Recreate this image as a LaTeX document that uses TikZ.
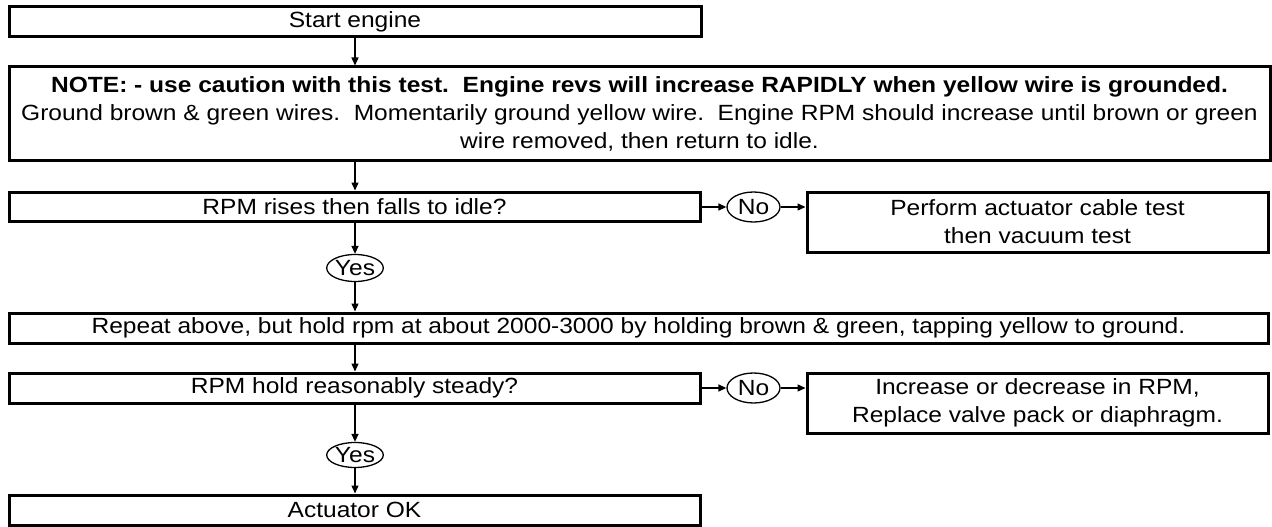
\documentclass[tikz,border=0pt]{standalone}
\usepackage{fontspec}
\setmainfont[FakeStretch=1.115]{Liberation Sans}
\usetikzlibrary{shapes.geometric,arrows.meta}
\begin{document}
\begin{tikzpicture}[x=1pt,y=1pt,
  font=\fontsize{22}{28}\selectfont,
  box/.style={draw, line width=3pt, inner sep=0pt, align=center},
  oval/.style={draw, ellipse, line width=1.3pt, inner sep=0pt},
  arr/.style={line width=1.4pt, -{Triangle[length=8pt,width=7pt]}}]
\useasboundingbox (0,0) rectangle (1272,-527);
% boxes
\node[box, minimum width=692pt, minimum height=30pt] (start) at (355,-22) {Start engine};
\node[box, minimum width=1261pt, minimum height=93pt] (note) at (639.5,-113.5)
  {\textbf{NOTE: - use caution with this test.\ \ Engine revs will increase RAPIDLY when yellow wire is grounded.}\\
   Ground brown \& green wires.\ \ Momentarily ground yellow wire.\ \ Engine RPM should increase until brown or green\\
   wire removed, then return to idle.};
\node[box, minimum width=691pt, minimum height=29pt] (rises) at (354.5,-206.5) {RPM rises then falls to idle?};
\node[oval, minimum width=53pt, minimum height=30pt] (no1) at (753.5,-207) {No};
\node[box, minimum width=461pt, minimum height=60pt] (perform) at (1037.5,-222)
  {Perform actuator cable test\\then vacuum test};
\node[oval, minimum width=56pt, minimum height=27pt] (yes1) at (355,-268) {Yes};
\node[box, minimum width=1259pt, minimum height=30pt] (repeat) at (638.5,-328)
  {Repeat above, but hold rpm at about 2000-3000 by holding brown \& green, tapping yellow to ground.};
\node[box, minimum width=691pt, minimum height=30pt] (hold) at (354.5,-388) {RPM hold reasonably steady?};
\node[oval, minimum width=53pt, minimum height=30pt] (no2) at (753.5,-388) {No};
\node[box, minimum width=461pt, minimum height=60pt] (incr) at (1037.5,-403)
  {Increase or decrease in RPM,\\Replace valve pack or diaphragm.};
\node[oval, minimum width=54pt, minimum height=25pt] (yes2) at (355,-455) {Yes};
\node[box, minimum width=691pt, minimum height=30pt] (ok) at (354.5,-510) {Actuator OK};
% connectors
\draw[arr] (start.south) -- (start.south |- note.north);
\draw[arr] (start.south |- note.south) -- (start.south |- rises.north);
\draw[arr] (start.south |- rises.south) -- (yes1.north);
\draw[arr] (yes1.south) -- (yes1.south |- repeat.north);
\draw[arr] (yes1.south |- repeat.south) -- (yes1.south |- hold.north);
\draw[arr] (yes1.south |- hold.south) -- (yes2.north);
\draw[arr] (yes2.south) -- (yes2.south |- ok.north);
\draw[arr] (rises.east |- no1.west) -- (no1.west);
\draw[arr] (no1.east) -- (no1.east -| perform.west);
\draw[arr] (hold.east |- no2.west) -- (no2.west);
\draw[arr] (no2.east) -- (no2.east -| incr.west);
\end{tikzpicture}
\end{document}
